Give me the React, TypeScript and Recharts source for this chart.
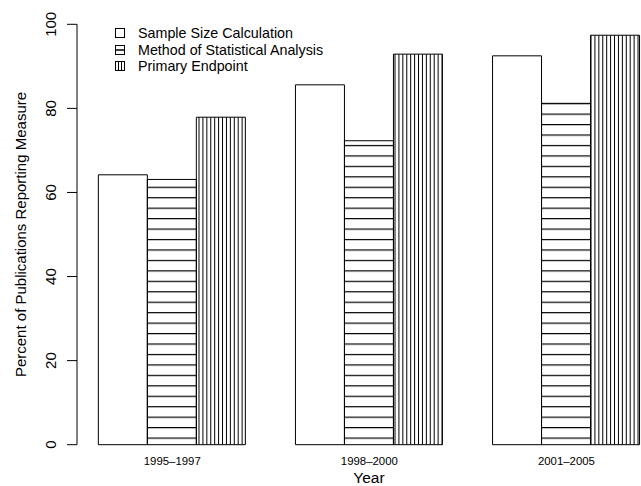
import React from 'react';
import { BarChart, Bar, XAxis, YAxis, Legend } from 'recharts';

const years = ['1995–1997', '1998–2000', '2001–2005'];
const sampleSize = [64.2, 85.6, 92.5];
const statMethod = [63.1, 72.3, 81.2];
const primaryEndpoint = [77.9, 92.9, 97.4];
const yTicks = [0, 20, 40, 60, 80, 100];

const seriesNames = ['Sample Size Calculation', 'Method of Statistical Analysis', 'Primary Endpoint'];

const data = years.map((year, i) => ({
  year,
  sample: sampleSize[i],
  method: statMethod[i],
  primary: primaryEndpoint[i],
}));

const FONT = '"Liberation Sans", Arial, Helvetica, sans-serif';

const YTick = (props: any) => {
  const { x, y, payload } = props;
  const cx = x - 16;
  return (
    <text
      x={cx}
      y={y}
      transform={`rotate(-90, ${cx}, ${y})`}
      textAnchor="middle"
      dominantBaseline="central"
      fontSize={15}
      fontFamily={FONT}
      fill="#000"
    >
      {payload.value}
    </text>
  );
};

const XTick = (props: any) => {
  const { x, y, payload } = props;
  return (
    <text x={x} y={y + 16} textAnchor="middle" dominantBaseline="central" fontSize={11.4} fontFamily={FONT} fill="#000">
      {payload.value}
    </text>
  );
};

const LegendIcon = ({ kind }: { kind: number }) => (
  <svg width={10} height={10} style={{ display: 'block' }}>
    <rect x={0.5} y={0.5} width={9} height={9} fill="#fff" stroke="#000" strokeWidth={1} />
    {kind === 1 && <line x1={0.5} x2={9.5} y1={5} y2={5} stroke="#000" strokeWidth={1.5} />}
    {kind === 2 && (
      <>
        <line x1={3.5} x2={3.5} y1={0.5} y2={9.5} stroke="#000" strokeWidth={1} />
        <line x1={6.5} x2={6.5} y1={0.5} y2={9.5} stroke="#000" strokeWidth={1} />
      </>
    )}
  </svg>
);

const renderLegend = () => (
  <div style={{ fontFamily: FONT, fontSize: 14.3, color: '#000' }}>
    {seriesNames.map((name, i) => (
      <div key={name} style={{ display: 'flex', alignItems: 'center', height: 16.5 }}>
        <LegendIcon kind={i} />
        <span style={{ marginLeft: 13, whiteSpace: 'nowrap' }}>{name}</span>
      </div>
    ))}
  </div>
);

export default function App() {
  return (
    <div style={{ position: 'absolute', left: 0, top: 0, width: 641, height: 486, overflow: 'hidden', background: '#fff' }}>
      <BarChart
        width={665}
        height={486}
        data={data}
        margin={{ top: 24.3, right: 0, bottom: 0, left: 0 }}
        barGap={0}
        barCategoryGap="12.5%"
      >
        <defs>
          <pattern id="hatchH" patternUnits="userSpaceOnUse" x={0} y={186.7} width={10} height={10.45}>
            <rect x={0} y={0} width={10} height={1.2} fill="#000" />
          </pattern>
          <pattern id="hatchV" patternUnits="userSpaceOnUse" x={198.5} y={0} width={3.92} height={10}>
            <rect x={0} y={0} width={1} height={10} fill="#000" />
          </pattern>
        </defs>
        <XAxis
          dataKey="year"
          axisLine={false}
          tickLine={false}
          tickSize={0}
          tickMargin={0}
          tick={<XTick />}
          height={41.3}
          padding={{ left: -3.3, right: 0 }}
          interval={0}
          label={{
            content: (p: any) => {
              const vb = p.viewBox;
              return (
                <text x={vb.x + vb.width / 2 - 2} y={477} textAnchor="middle" dominantBaseline="central" fontSize={15.5} fontFamily={FONT} fill="#000">
                  Year
                </text>
              );
            },
          }}
        />
        <YAxis
          type="number"
          domain={[0, 100]}
          ticks={yTicks}
          width={77}
          tickSize={10}
          tickMargin={0}
          tick={<YTick />}
          axisLine={{ stroke: '#000', strokeWidth: 1 }}
          tickLine={{ stroke: '#000', strokeWidth: 1 }}
          label={{
            content: (p: any) => {
              const vb = p.viewBox;
              const cx = vb.x + 20;
              const cy = vb.y + vb.height / 2;
              return (
                <text
                  x={cx}
                  y={cy}
                  transform={`rotate(-90, ${cx}, ${cy})`}
                  textAnchor="middle"
                  dominantBaseline="central"
                  fontSize={15}
                  fontFamily={FONT}
                  fill="#000"
                >
                  Percent of Publications Reporting Measure
                </text>
              );
            },
          }}
        />
        <Legend
          layout="horizontal"
          verticalAlign="middle"
          align="center"
          content={renderLegend}
          wrapperStyle={{ top: 25, left: 115, width: 'auto', height: 'auto' }}
        />
        <Bar dataKey="sample" name={seriesNames[0]} fill="#fff" stroke="#000" strokeWidth={1} isAnimationActive={false} />
        <Bar dataKey="method" name={seriesNames[1]} fill="url(#hatchH)" stroke="#000" strokeWidth={1} isAnimationActive={false} />
        <Bar dataKey="primary" name={seriesNames[2]} fill="url(#hatchV)" stroke="#000" strokeWidth={1} isAnimationActive={false} />
      </BarChart>
    </div>
  );
}
